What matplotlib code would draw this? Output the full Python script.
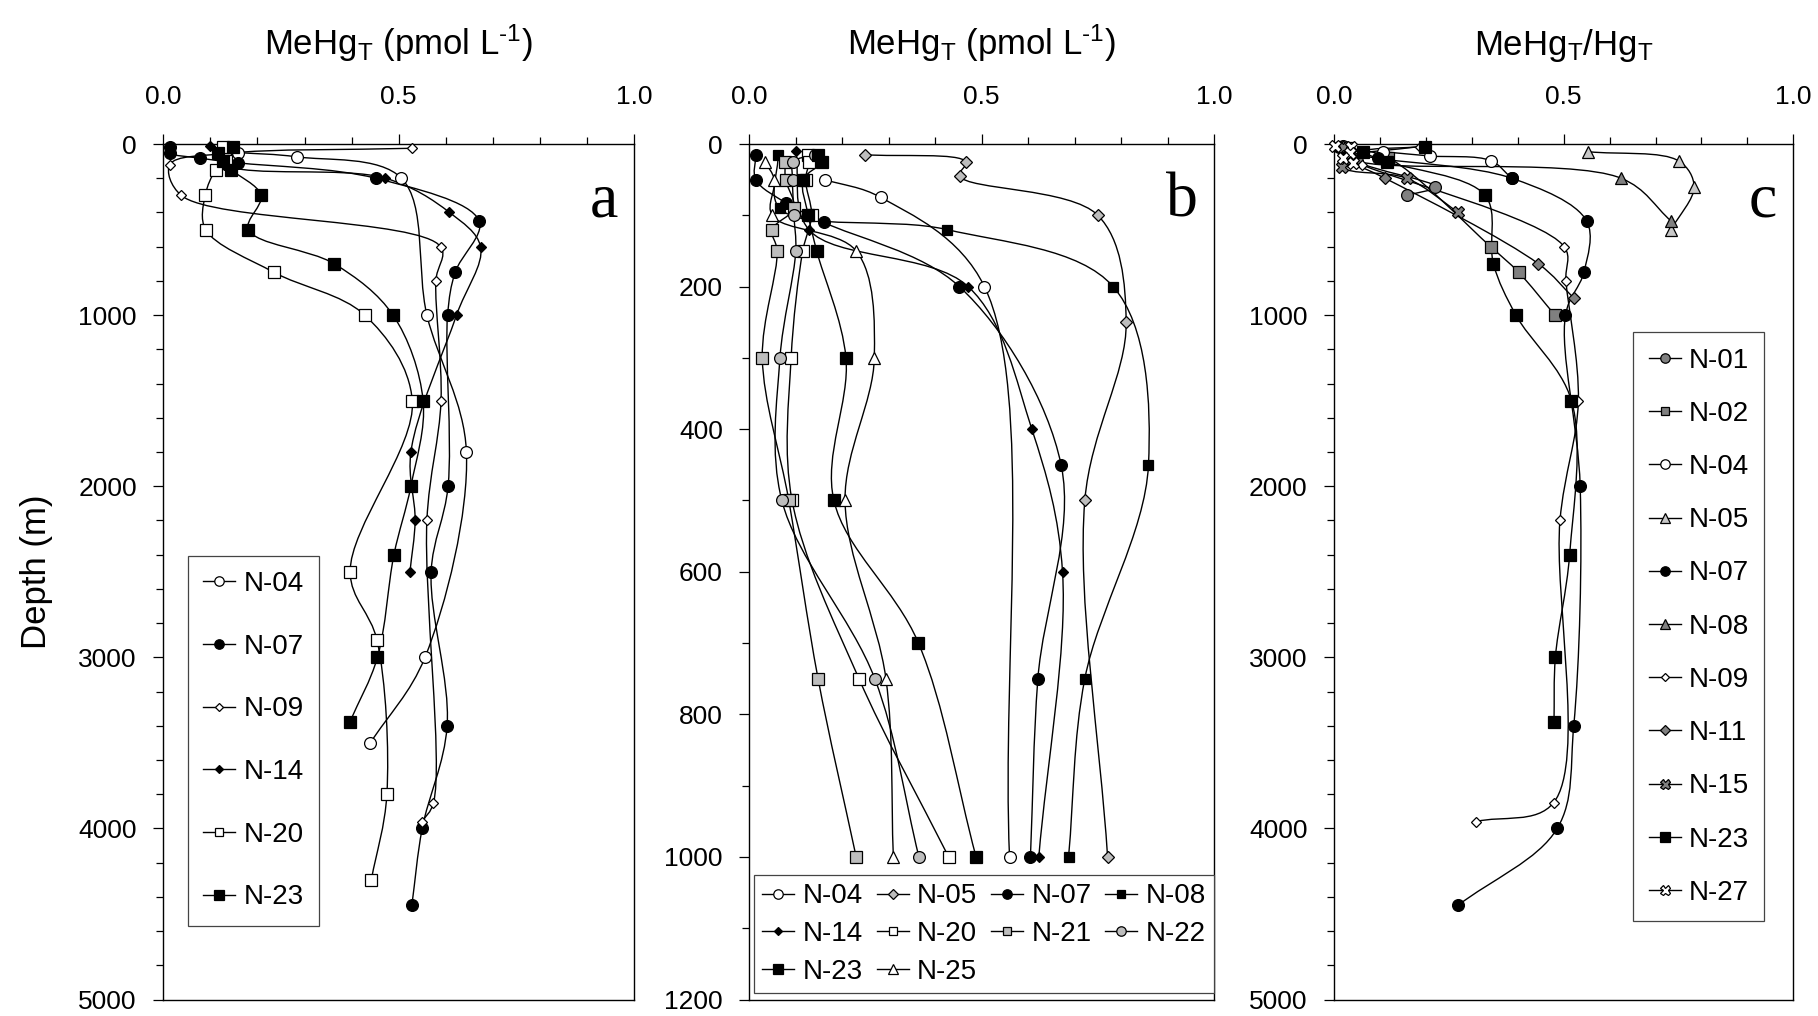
import numpy as np
import matplotlib
matplotlib.use("Agg")
import matplotlib.pyplot as plt
from matplotlib.path import Path
from matplotlib.patches import PathPatch
from matplotlib.lines import Line2D
from matplotlib.ticker import MultipleLocator, FormatStrFormatter

plt.rcParams['font.family'] = ['Liberation Sans', 'DejaVu Sans']
plt.rcParams['mathtext.fontset'] = 'custom'
plt.rcParams['mathtext.rm'] = 'Liberation Sans'
plt.rcParams['mathtext.it'] = 'Liberation Sans'
plt.rcParams['mathtext.default'] = 'regular'

# ---------------- Panel a : MeHgT (pmol/L), full depth ----------------
a_n04_depth = [50, 75, 200, 1000, 1800, 3000, 3500]
a_n04_val = [0.159, 0.283, 0.506, 0.560, 0.644, 0.556, 0.440]
a_n07_depth = [15, 50, 83, 110, 200, 450, 750, 1000, 2000, 2500, 3400, 4000, 4450]
a_n07_val = [0.014, 0.014, 0.078, 0.159, 0.451, 0.671, 0.620, 0.604, 0.605, 0.569, 0.603, 0.550, 0.528]
a_n09_depth = [25, 55, 120, 300, 600, 800, 1500, 2200, 3850, 3960]
a_n09_val = [0.529, 0.135, 0.014, 0.038, 0.589, 0.579, 0.590, 0.560, 0.574, 0.550]
a_n14_depth = [10, 120, 200, 400, 600, 1000, 1800, 2200, 2500]
a_n14_val = [0.099, 0.128, 0.472, 0.608, 0.674, 0.623, 0.526, 0.535, 0.524]
a_n20_depth = [15, 100, 150, 300, 500, 750, 1000, 1500, 2500, 2900, 3800, 4300]
a_n20_val = [0.127, 0.134, 0.112, 0.089, 0.090, 0.235, 0.428, 0.529, 0.397, 0.454, 0.475, 0.442]
a_n23_depth = [15, 50, 100, 150, 300, 500, 700, 1000, 1500, 2000, 2400, 3000, 3380]
a_n23_val = [0.149, 0.116, 0.127, 0.144, 0.208, 0.181, 0.363, 0.488, 0.552, 0.526, 0.490, 0.455, 0.396]

# ---------------- Panel b : MeHgT (pmol/L), upper 1200 m ----------------
b_n04_depth = [50, 75, 200, 1000]
b_n04_val = [0.163, 0.283, 0.506, 0.560]
b_n05_depth = [15, 25, 45, 100, 250, 500, 1000]
b_n05_val = [0.250, 0.466, 0.453, 0.750, 0.811, 0.722, 0.771]
b_n07_depth = [15, 50, 83, 110, 200, 450, 750, 1000]
b_n07_val = [0.014, 0.014, 0.080, 0.161, 0.452, 0.671, 0.621, 0.605]
b_n08_depth = [15, 90, 120, 200, 450, 750, 1000]
b_n08_val = [0.062, 0.065, 0.425, 0.783, 0.859, 0.722, 0.687]
b_n14_depth = [10, 120, 200, 400, 600, 1000]
b_n14_val = [0.100, 0.128, 0.471, 0.608, 0.674, 0.623]
b_n20_depth = [15, 25, 50, 100, 150, 300, 500, 750, 1000]
b_n20_val = [0.127, 0.129, 0.121, 0.134, 0.115, 0.090, 0.092, 0.236, 0.429]
b_n21_depth = [25, 50, 90, 120, 150, 300, 500, 750, 1000]
b_n21_val = [0.077, 0.078, 0.096, 0.049, 0.060, 0.028, 0.085, 0.148, 0.230]
b_n22_depth = [15, 25, 50, 100, 150, 300, 500, 750, 1000]
b_n22_val = [0.141, 0.095, 0.093, 0.096, 0.100, 0.066, 0.070, 0.270, 0.365]
b_n23_depth = [15, 25, 50, 100, 150, 300, 500, 700, 1000]
b_n23_val = [0.148, 0.156, 0.116, 0.127, 0.145, 0.208, 0.182, 0.364, 0.488]
b_n25_depth = [25, 50, 100, 150, 300, 500, 750, 1000]
b_n25_val = [0.034, 0.054, 0.049, 0.230, 0.269, 0.206, 0.294, 0.310]

# ---------------- Panel c : MeHgT / HgT ----------------
c_n01_depth = [10, 100, 250, 300]
c_n01_val = [0.020, 0.050, 0.220, 0.160]
c_n02_depth = [25, 80, 600, 750, 1000]
c_n02_val = [0.030, 0.118, 0.341, 0.402, 0.481]
c_n04_depth = [45, 70, 97, 200]
c_n04_val = [0.107, 0.209, 0.341, 0.387]
c_n05_depth = [45, 100, 250, 500]
c_n05_val = [0.554, 0.751, 0.784, 0.734]
c_n07_depth = [15, 50, 84, 200, 450, 750, 1000, 2000, 3400, 4000, 4450]
c_n07_val = [0.010, 0.030, 0.096, 0.387, 0.550, 0.544, 0.504, 0.536, 0.522, 0.486, 0.270]
c_n08_depth = [14, 89, 200, 450]
c_n08_val = [0.020, 0.040, 0.625, 0.734]
c_n09_depth = [15, 75, 120, 600, 800, 1500, 2200, 3850, 3960]
c_n09_val = [0.187, 0.030, 0.060, 0.501, 0.505, 0.532, 0.492, 0.478, 0.310]
c_n11_depth = [100, 200, 700, 900]
c_n11_val = [0.030, 0.111, 0.445, 0.522]
c_n15_depth = [20, 132, 200, 400]
c_n15_val = [0.020, 0.017, 0.158, 0.271]
c_n23_depth = [15, 44, 103, 300, 700, 1000, 1500, 2400, 3000, 3380]
c_n23_val = [0.199, 0.064, 0.115, 0.329, 0.347, 0.396, 0.517, 0.513, 0.482, 0.479]
c_n27_depth = [10, 20, 50, 80, 113]
c_n27_val = [0.002, 0.038, 0.035, 0.020, 0.042]

# ---------------- styles ----------------
LG = '#bdbdbd'   # light gray fill
DG = '#808080'   # darker gray fill
STY = {
    'o_w': dict(marker='o', mfc='white', ms=8.5),
    'o_k': dict(marker='o', mfc='black', ms=8.5),
    'o_lg': dict(marker='o', mfc=LG, ms=8.5),
    'o_dg': dict(marker='o', mfc=DG, ms=8.5),
    'D_w': dict(marker='D', mfc='white', ms=5.6),
    'D_k': dict(marker='D', mfc='black', ms=4.8),
    'D_lg': dict(marker='D', mfc=LG, ms=5.8),
    'D_dg': dict(marker='D', mfc=DG, ms=5.8),
    's_w': dict(marker='s', mfc='white', ms=8),
    's_k': dict(marker='s', mfc='black', ms=8.2),
    's_k_small': dict(marker='s', mfc='black', ms=7),
    's_lg': dict(marker='s', mfc=LG, ms=8),
    's_dg': dict(marker='s', mfc=DG, ms=8),
    '^_w': dict(marker='^', mfc='white', ms=8.5),
    '^_lg': dict(marker='^', mfc='#c8c8c8', ms=9),
    '^_dg': dict(marker='^', mfc=DG, ms=9),
    'X_dg': dict(marker='X', mfc=DG, ms=9),
    'X_w': dict(marker='X', mfc='white', ms=9),
}

panel_a = [
    ('N-04', a_n04_val, a_n04_depth, 'o_w'),
    ('N-07', a_n07_val, a_n07_depth, 'o_k'),
    ('N-09', a_n09_val, a_n09_depth, 'D_w'),
    ('N-14', a_n14_val, a_n14_depth, 'D_k'),
    ('N-20', a_n20_val, a_n20_depth, 's_w'),
    ('N-23', a_n23_val, a_n23_depth, 's_k'),
]
panel_b = [
    ('N-04', b_n04_val, b_n04_depth, 'o_w'),
    ('N-05', b_n05_val, b_n05_depth, 'D_lg'),
    ('N-07', b_n07_val, b_n07_depth, 'o_k'),
    ('N-08', b_n08_val, b_n08_depth, 's_k_small'),
    ('N-14', b_n14_val, b_n14_depth, 'D_k'),
    ('N-20', b_n20_val, b_n20_depth, 's_w'),
    ('N-21', b_n21_val, b_n21_depth, 's_lg'),
    ('N-22', b_n22_val, b_n22_depth, 'o_lg'),
    ('N-23', b_n23_val, b_n23_depth, 's_k'),
    ('N-25', b_n25_val, b_n25_depth, '^_w'),
]
panel_c = [
    ('N-01', c_n01_val, c_n01_depth, 'o_dg'),
    ('N-02', c_n02_val, c_n02_depth, 's_dg'),
    ('N-04', c_n04_val, c_n04_depth, 'o_w'),
    ('N-05', c_n05_val, c_n05_depth, '^_lg'),
    ('N-07', c_n07_val, c_n07_depth, 'o_k'),
    ('N-08', c_n08_val, c_n08_depth, '^_dg'),
    ('N-09', c_n09_val, c_n09_depth, 'D_w'),
    ('N-11', c_n11_val, c_n11_depth, 'D_dg'),
    ('N-15', c_n15_val, c_n15_depth, 'X_dg'),
    ('N-23', c_n23_val, c_n23_depth, 's_k'),
    ('N-27', c_n27_val, c_n27_depth, 'X_w'),
]

LW = 1.0
MEW = 0.9


def smooth_path(x, d, sx, sy):
    """Centripetal Catmull-Rom curve through the points, as cubic Bezier path."""
    P = np.column_stack([np.asarray(x, float) * sx, np.asarray(d, float) * sy])
    n = len(P)
    ext = np.vstack([2 * P[0] - P[1], P, 2 * P[-1] - P[-2]])
    verts = [P[0]]
    codes = [Path.MOVETO]
    for i in range(n - 1):
        p0, p1, p2, p3 = ext[i], ext[i + 1], ext[i + 2], ext[i + 3]
        t01 = max(np.linalg.norm(p1 - p0), 1e-6) ** 0.5
        t12 = max(np.linalg.norm(p2 - p1), 1e-6) ** 0.5
        t23 = max(np.linalg.norm(p3 - p2), 1e-6) ** 0.5
        m1 = (p1 - p0) / t01 - (p2 - p0) / (t01 + t12) + (p2 - p1) / t12
        m2 = (p2 - p1) / t12 - (p3 - p1) / (t12 + t23) + (p3 - p2) / t23
        m1 = m1 * t12
        m2 = m2 * t12
        verts += [p1 + m1 / 3.0, p2 - m2 / 3.0, p2]
        codes += [Path.CURVE4] * 3
    V = np.array(verts)
    V[:, 0] /= sx
    V[:, 1] /= sy
    return Path(V, codes)


fig = plt.figure(figsize=(18.18, 10.16), dpi=100)
W, H = 1818.0, 1016.0


def make_ax(left_px, right_px, top_px=144.0, bot_px=999.5):
    return fig.add_axes([left_px / W, 1 - bot_px / H, (right_px - left_px) / W, (bot_px - top_px) / H])


axa = make_ax(163.3, 634.0)
axb = make_ax(749.3, 1214.0)
axc = make_ax(1334.0, 1793.3)

TICK_FS = 19
LAB_FS = 25
LEG_FS = 20


def draw_panel(ax, series, ymax, ymajor, yminor, xlabel, letter):
    ax.set_xlim(0, 1)
    ax.set_ylim(ymax, 0)
    bb = ax.get_position()
    sx = bb.width * W
    sy = bb.height * H / ymax
    handles = []
    for name, xv, dv, sk in series:
        path = smooth_path(xv, dv, sx, sy)
        ax.add_patch(PathPatch(path, facecolor='none', edgecolor='black', lw=LW, zorder=2))
    for name, xv, dv, sk in series:
        st = STY[sk]
        ax.plot(xv, dv, ls='none', marker=st['marker'], ms=st['ms'], mfc=st['mfc'],
                mec='black', mew=MEW, zorder=3, clip_on=False)
        handles.append(Line2D([0], [0], color='black', lw=LW, marker=st['marker'],
                              ms=st['ms'] * 0.8, mfc=st['mfc'], mec='black', mew=MEW))
    ax.xaxis.tick_top()
    ax.xaxis.set_label_position('top')
    ax.xaxis.set_major_locator(MultipleLocator(0.5))
    ax.xaxis.set_minor_locator(MultipleLocator(0.1))
    ax.xaxis.set_major_formatter(FormatStrFormatter('%.1f'))
    ax.yaxis.set_major_locator(MultipleLocator(ymajor))
    ax.yaxis.set_minor_locator(MultipleLocator(yminor))
    ax.tick_params(axis='x', which='both', top=True, bottom=False, direction='out',
                   labelsize=TICK_FS, pad=18, width=0.9)
    ax.tick_params(axis='y', which='both', left=True, right=False, direction='out',
                   labelsize=TICK_FS, pad=12, width=0.9)
    ax.tick_params(which='major', length=7)
    ax.tick_params(which='minor', length=5)
    for s in ax.spines.values():
        s.set_linewidth(1.0)
    ax.set_xlabel(xlabel, fontsize=LAB_FS, labelpad=22)
    ax.text(1 - 16.0 / (bb.width * W), 1 - 72.0 / (bb.height * H), letter,
            transform=ax.transAxes, ha='right', va='baseline',
            fontsize=46, family=['Liberation Serif', 'DejaVu Serif'])
    return handles


xl_conc = 'MeHg$_{T}$ (pmol L$^{\\mathregular{\u20101}}$)'
xl_ratio = r'MeHg$_{T}$/Hg$_{T}$'

ha = draw_panel(axa, panel_a, 5000, 1000, 200, xl_conc, 'a')
hb = draw_panel(axb, panel_b, 1200, 200, 100, xl_conc, 'b')
hc = draw_panel(axc, panel_c, 5000, 1000, 200, xl_ratio, 'c')

axa.set_ylabel('Depth (m)', fontsize=LAB_FS, labelpad=18)

leg_kw = dict(fontsize=LEG_FS, frameon=True, fancybox=False, shadow=False,
              edgecolor='#444444', framealpha=1, handlelength=1.15,
              handletextpad=0.3, borderaxespad=0.0)

la = axa.legend(ha, [s[0] for s in panel_a], loc='upper left',
                bbox_to_anchor=(187.7 / W, 1 - 555.7 / H), bbox_transform=fig.transFigure,
                labelspacing=1.32, borderpad=0.55, **leg_kw)
la.get_frame().set_linewidth(0.9)

# legend of b is filled row by row: reorder for matplotlib's column-major filling
names_b = [s[0] for s in panel_b]
order_b = [0, 4, 8, 1, 5, 9, 2, 6, 3, 7]
lb = axb.legend([hb[i] for i in order_b], [names_b[i] for i in order_b], loc='upper left', ncol=4,
                bbox_to_anchor=(754.0 / W, 1 - 875.0 / H), bbox_transform=fig.transFigure,
                labelspacing=0.42, borderpad=0.3, columnspacing=0.5, **leg_kw)
lb.get_frame().set_linewidth(0.9)

lc = axc.legend(hc, [s[0] for s in panel_c], loc='upper left',
                bbox_to_anchor=(1633.3 / W, 1 - 332.3 / H), bbox_transform=fig.transFigure,
                labelspacing=0.98, borderpad=0.55, **leg_kw)
lc.get_frame().set_linewidth(0.9)

fig.savefig('out.png', dpi=100)
